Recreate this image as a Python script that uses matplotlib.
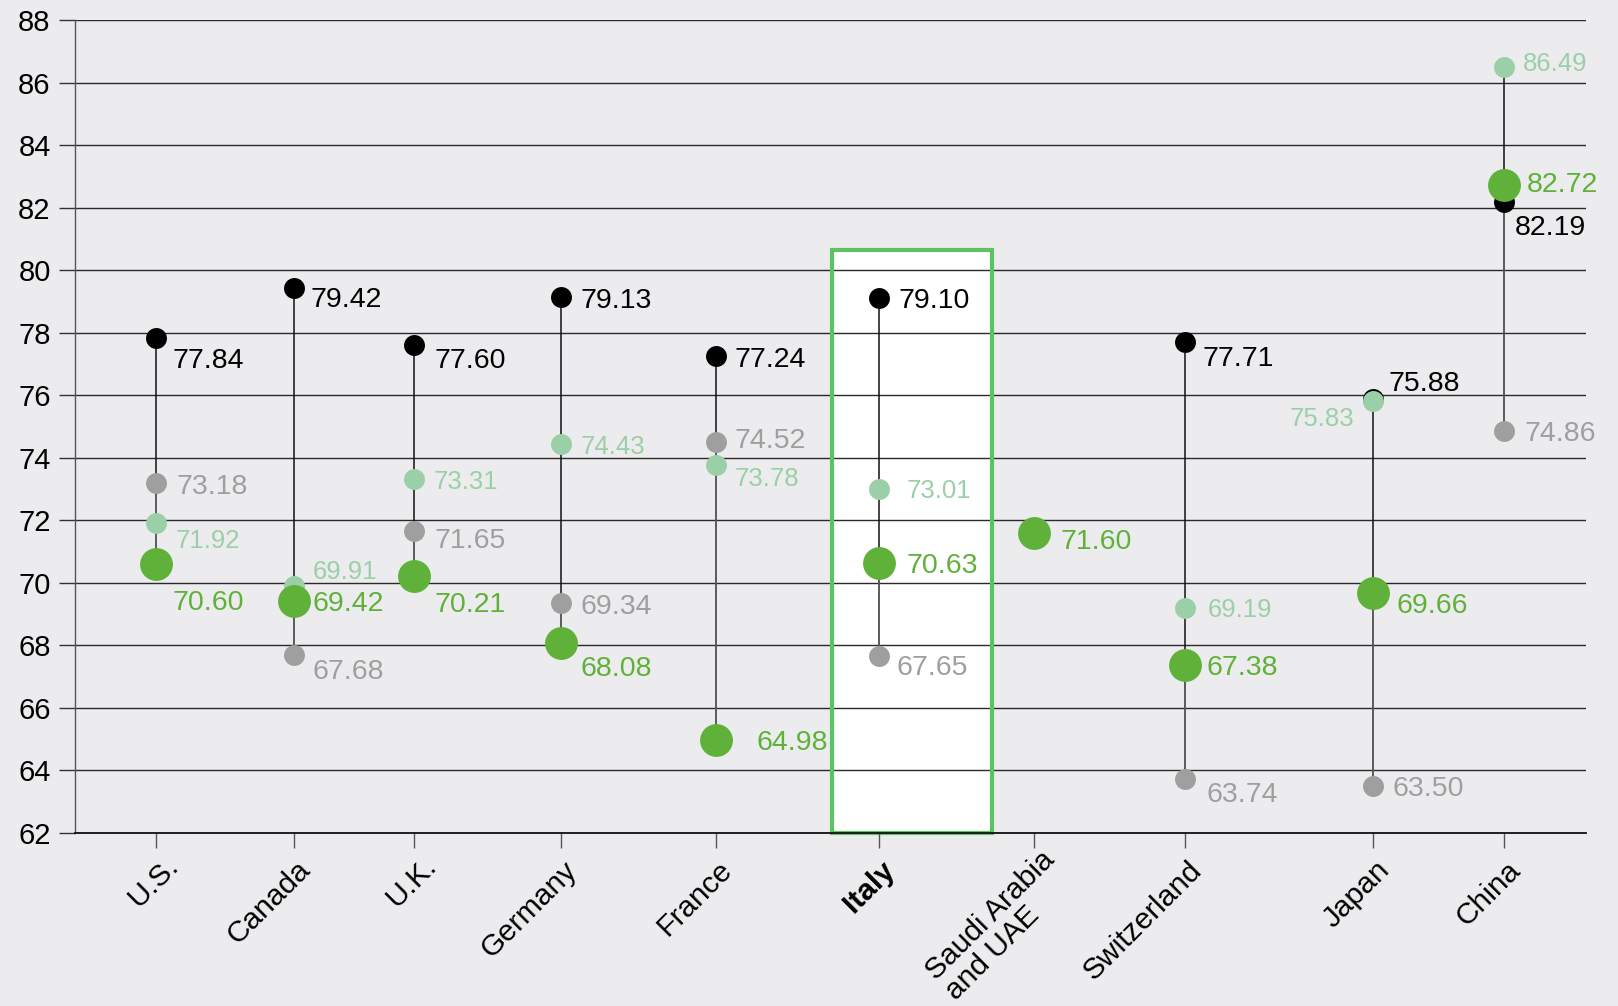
import matplotlib
matplotlib.use("Agg")
import matplotlib.pyplot as plt
import matplotlib.transforms as mtransforms
from matplotlib.patches import Rectangle

plt.rcParams['font.family'] = ['Liberation Sans', 'DejaVu Sans']

# data
countries = ['U.S.', 'Canada', 'U.K.', 'Germany', 'France', 'Italy',
             'Saudi Arabia\nand UAE', 'Switzerland', 'Japan', 'China']
black_vals = [77.84, 79.42, 77.60, 79.13, 77.24, 79.10, None, 77.71, 75.88, 82.19]
gray_vals = [73.18, 67.68, 71.65, 69.34, 74.52, 67.65, None, 63.74, 63.50, 74.86]
light_vals = [71.92, 69.91, 73.31, 74.43, 73.78, 73.01, None, 69.19, 75.83, 86.49]
green_vals = [70.60, 69.42, 70.21, 68.08, 64.98, 70.63, 71.60, 67.38, 69.66, 82.72]
yticks = list(range(62, 90, 2))

# layout (x positions of the categories, label offsets in pixels: dx, dy-below)
x_pos = [81, 219, 339, 486, 641, 804, 959, 1110, 1298, 1429]
black_off = [(17, 20), (17, 9), (21, 13), (20, 0), (19, 0), (20, 0), None, (17, 14), (15, -18), (11, 23)]
gray_off = [(20, 0), (19, 13), (21, 7), (20, 0), (19, -4), (18, 8), None, (22, 13), (20, 0), (20, 0)]
light_off = [(20, 16), (19, -16), (20, 0), (20, 0), (19, 12), (28, 0), None, (23, 0), (-19, 16), (19, -5)]
green_off = [(17, 36), (19, 0), (21, 26), (20, 23), (40, 0), (28, 0), (27, 6), (22, 0), (23, 9), (23, -3)]

BG = '#ececee'
C_BLACK = '#000000'
C_GRAY = '#a09fa0'
C_LIGHT = '#9bcfa7'
C_GREEN = '#5fb13a'
C_BOX = '#5cc264'

fig = plt.figure(figsize=(16.18, 10.06), dpi=100, facecolor=BG)
ax = fig.add_axes([75 / 1618, 173 / 1006, 1511 / 1618, 813 / 1006])
ax.set_facecolor(BG)
ax.set_xlim(0, 1511)
ax.set_ylim(62, 88)

# highlight box for Italy
ax.add_patch(Rectangle((757, 62), 160, 80.65 - 62, facecolor='white',
                       edgecolor='none', zorder=0.3))
ax.add_patch(Rectangle((757, 62), 160, 80.65 - 62, facecolor='none',
                       edgecolor=C_BOX, lw=3, zorder=1.5, clip_on=False))

for y in yticks:
    ax.axhline(y, color='#2a2a2a', lw=1.0, zorder=1)

# stems
for i, x in enumerate(x_pos):
    vals = [v for v in (black_vals[i], gray_vals[i], light_vals[i], green_vals[i]) if v is not None]
    if len(vals) > 1:
        ax.plot([x, x], [min(vals), max(vals)], color='#111111', lw=1.1, zorder=2)
    if gray_vals[i] is not None:
        ax.plot([x, x], [gray_vals[i], green_vals[i]], color='#666666', lw=1.1, zorder=2.1)


def draw_series(vals, offs, color, size, fs, z):
    for i, x in enumerate(x_pos):
        v = vals[i]
        if v is None:
            continue
        ax.scatter([x], [v], s=size, color=color, zorder=z, linewidths=0)
        dx, dy = offs[i]
        cap = fs * 100 / 72 * 0.716
        ax.annotate(f'{v:.2f}', (x, v), xytext=(dx, -(dy + cap / 2)),
                    textcoords='offset pixels', color=color, fontsize=fs,
                    ha='right' if dx < 0 else 'left', va='baseline', zorder=6)


draw_series(black_vals, black_off, C_BLACK, 227, 20.5, 3)
draw_series(gray_vals, gray_off, C_GRAY, 227, 20.5, 3.2)
draw_series(light_vals, light_off, C_LIGHT, 227, 18.5, 3.4)
draw_series(green_vals, green_off, C_GREEN, 560, 20.5, 3.6)

# axes styling
for s in ['top', 'right']:
    ax.spines[s].set_visible(False)
ax.spines['left'].set_color('#555555')
ax.spines['left'].set_linewidth(1.0)
ax.spines['bottom'].set_color('#111111')
ax.spines['bottom'].set_linewidth(1.3)
ax.spines['bottom'].set_zorder(2.5)

ax.set_yticks(yticks)
ax.set_yticklabels([str(t) for t in yticks], fontsize=21)
ax.tick_params(axis='y', length=11.5, width=1.0, color='#333333', pad=6)

ax.set_xticks(x_pos)
ax.set_xticklabels(countries, fontsize=21.5, rotation=45, ha='right', va='top',
                   rotation_mode='anchor', multialignment='left')
ax.tick_params(axis='x', length=10.8, width=1.0, color='#555555', pad=5.5)
for lbl in ax.get_xticklabels():
    dx, dy = 2, 0
    if lbl.get_text() == 'Italy':
        lbl.set_fontweight('bold')
    if lbl.get_text() in ('U.S.', 'U.K.'):
        dx, dy = 8, 4
    if lbl.get_text().startswith('Saudi'):
        dx, dy = 6, 10
        lbl.set_linespacing(1.0)
    lbl.set_transform(lbl.get_transform() + mtransforms.ScaledTranslation(dx / 100, dy / 100, fig.dpi_scale_trans))

fig.savefig('out.png', dpi=100, facecolor=BG)
